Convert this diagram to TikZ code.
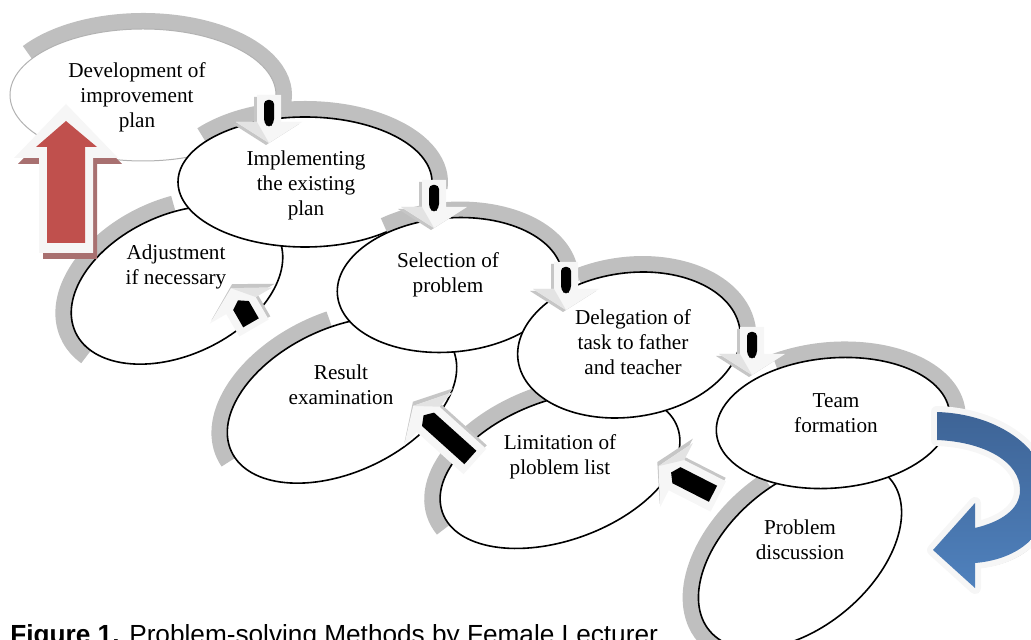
\documentclass[tikz,border=0pt]{standalone}
\usepackage{fontspec}
\setmainfont{Liberation Serif}
\newfontfamily\capfont{Liberation Sans}

\definecolor{stepred}{RGB}{192,80,77}
\definecolor{redshade}{RGB}{168,112,112}
\definecolor{bluetop}{RGB}{62,100,150}
\definecolor{bluebot}{RGB}{79,129,189}

\tikzset{
  ring/.style={draw=black, line width=0.8pt, fill=white},
  band/.style={draw=gray!50, line width=8pt},
  steptext/.style={align=center, inner sep=0pt, font=\fontsize{10.6}{12.5}\selectfont},
  % downward arrows between the upper steps
  steparrow/.pic={
    \fill[gray!45] (-20,-15) -- (7,-15) -- (7,-36) -- (28,-3) -- (7,30) -- (7,9) -- (-20,9) -- cycle;% shadow
    \fill[gray!7] (-22,-12) -- (5,-12) -- (5,-33) -- (26,0) -- (5,33) -- (5,12) -- (-22,12) -- cycle;
    \fill[gray!22] (5,-33) -- (26,0) -- (5,-12) -- cycle;
    \fill[black, rounded corners=2pt] (-17,-5) -- (6,-5) -- (11,0) -- (6,5) -- (-17,5) -- cycle;
  },
  % wide arrows going back up, #1 = length of the stem
  pics/liftarrow/.style={code={
    \fill[gray!45] (-#1+2,-20) -- (6,-20) -- (6,-40) -- (27,-3) -- (6,33) -- (6,13) -- (-#1+2,13) -- cycle;% shadow
    \fill[gray!7] (-#1,-17) -- (4,-17) -- (4,-36) -- (24,0) -- (4,36) -- (4,17) -- (-#1,17) -- cycle;
    \fill[gray!22] (4,-36) -- (24,0) -- (4,-17) -- cycle;
    \fill[black] (-#1+6,-9) -- (4,-9) -- (10,0) -- (4,9) -- (-#1+6,9) -- cycle;
  }}
}

% curved blue arrow on the right
\newcommand\bluearrowpath{(937,-412) .. controls (1000,-414) and (1048,-450) .. (1048,-495)
  .. controls (1048,-540) and (1012,-560) .. (975,-563) -- (975,-588) -- (933,-550) -- (975,-503)
  -- (975,-528) .. controls (1000,-522) and (1020,-510) .. (1020,-490)
  .. controls (1020,-462) and (985,-442) .. (937,-440) -- cycle}

\begin{document}
\begin{tikzpicture}[x=0.5pt,y=0.5pt]
    \useasboundingbox (0,0) rectangle (1031,-640);
    \clip (0,0) rectangle (1031,-640);

    % first step, light rim
    \begin{scope}[shift={(143,-95)}]
        \draw[band] (145:141 and 74) arc[start angle=145,end angle=-8,x radius=141,y radius=74];
        \draw[ring, draw=gray!60, line width=0.5pt] (0,0) ellipse [x radius=133,y radius=66];
    \end{scope}

    % the other steps, back to front
    \foreach \cx/\cy/\rx/\ry/\rot/\aa/\ab in {
        177/-285/112/70/25/75/200,% adjustment
        305/-182/127/65/0/140/-5,% implementing
        342/-400/122/72/25/80/186,% result
        450/-285/113/67/5/120/-5,% selection
        560/-470/125/70/20/80/192,% limitation
        629/-345/112/72/8/110/-5,% delegation
        800/-555/118/72/40/80/200,% discussion
        833/-423/117/65/5/115/-15}% team
    {
        \begin{scope}[shift={(\cx,\cy)},rotate=\rot]
            \pgfmathsetmacro\bx{\rx+8}
            \pgfmathsetmacro\by{\ry+8}
            \draw[band] ({\aa}:{\bx} and {\by}) arc[start angle=\aa,end angle=\ab,x radius=\bx,y radius=\by];
            \draw[ring] (0,0) ellipse [x radius=\rx,y radius=\ry];
        \end{scope}
    }

    \node[steptext] (dev)  at (137,-97)  {Development of\\improvement\\plan};
    \node[steptext] (impl) at (306,-185) {Implementing\\the existing\\plan};
    \node[steptext] (adj)  at (176,-267) {Adjustment\\if necessary};
    \node[steptext] (sel)  at (448,-275) {Selection of\\problem};
    \node[steptext] (res)  at (341,-385) {Result\\examination};
    \node[steptext] (dele) at (633,-342) {Delegation of\\task to father\\and teacher};
    \node[steptext] (lim)  at (560,-457) {Limitation of\\ploblem list};
    \node[steptext] (team) at (836,-413) {Team\\formation};
    \node[steptext] (disc) at (800,-540) {Problem\\discussion};

    % small arrows between the steps
    \pic[rotate=-90] at (269,-117) {steparrow};
    \pic[rotate=-90] at (434,-202) {steparrow};
    \pic[rotate=-90] at (566,-284) {steparrow};
    \pic[rotate=-90] at (752,-349) {steparrow};
    \pic[rotate=153] at (680,-477) {liftarrow=43};
    \pic[rotate=138] at (431,-422) {liftarrow=59};
    \pic[rotate=120] at (243,-309) {liftarrow=22};

    % red arrow back to the first step
    \fill[redshade, shift={(4,-6)}] (66,-104) -- (118,-158) -- (93,-158) -- (93,-253) -- (39,-253) -- (39,-158) -- (14,-158) -- cycle;
    \fill[gray!7] (66,-104) -- (118,-158) -- (93,-158) -- (93,-253) -- (39,-253) -- (39,-158) -- (14,-158) -- cycle;
    \fill[stepred] (66,-121) -- (97,-147) -- (85,-147) -- (85,-243) -- (47,-243) -- (47,-147) -- (36,-147) -- cycle;

    % blue arrow from team formation down to discussion
    \fill[gray!60, shift={(3,-5)}] \bluearrowpath;
    \draw[gray!7, line width=6pt, line join=round] \bluearrowpath;
    \shade[top color=bluetop, bottom color=bluebot] \bluearrowpath;

    \node[anchor=base west, inner sep=0pt, font=\capfont\fontsize{13.1}{15}\selectfont] (cap) at (10,-643)
        {\textbf{Figure 1.} Problem-solving Methods by Female Lecturer};
\end{tikzpicture}
\end{document}
